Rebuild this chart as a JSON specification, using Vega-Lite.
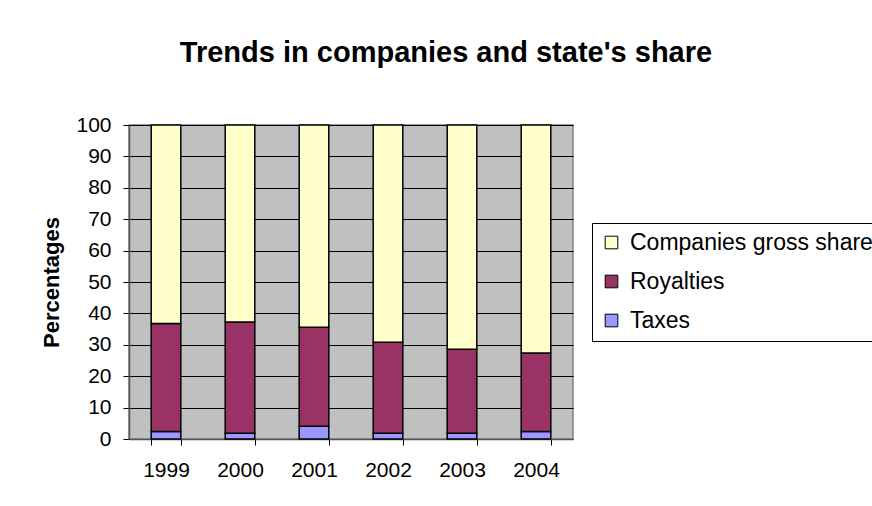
{
  "$schema": "https://vega.github.io/schema/vega-lite/v6.json",
  "description": "Trends in companies and state's share",
  "autosize": {"type": "none"},
  "width": 444,
  "height": 314,
  "padding": {"left": 129, "top": 125, "right": 299, "bottom": 67},
  "background": "#FFFFFF",
  "title": {
    "text": "Trends in companies and state's share",
    "anchor": "middle",
    "dx": 95,
    "offset": 46,
    "fontSize": 29,
    "font": "Liberation Sans",
    "fontWeight": "bold",
    "color": "#000000"
  },
  "data": {
    "values": [
      {"year": "1999", "type": "Taxes", "value": 2.4},
      {"year": "1999", "type": "Royalties", "value": 34.4},
      {"year": "1999", "type": "Companies gross share", "value": 63.2},
      {"year": "2000", "type": "Taxes", "value": 1.8},
      {"year": "2000", "type": "Royalties", "value": 35.5},
      {"year": "2000", "type": "Companies gross share", "value": 62.7},
      {"year": "2001", "type": "Taxes", "value": 4.1},
      {"year": "2001", "type": "Royalties", "value": 31.5},
      {"year": "2001", "type": "Companies gross share", "value": 64.4},
      {"year": "2002", "type": "Taxes", "value": 1.8},
      {"year": "2002", "type": "Royalties", "value": 29.0},
      {"year": "2002", "type": "Companies gross share", "value": 69.2},
      {"year": "2003", "type": "Taxes", "value": 1.8},
      {"year": "2003", "type": "Royalties", "value": 26.8},
      {"year": "2003", "type": "Companies gross share", "value": 71.4},
      {"year": "2004", "type": "Taxes", "value": 2.4},
      {"year": "2004", "type": "Royalties", "value": 25.0},
      {"year": "2004", "type": "Companies gross share", "value": 72.6}
    ]
  },
  "mark": {"type": "bar", "stroke": "#000000", "strokeWidth": 1.5},
  "encoding": {
    "x": {
      "field": "year",
      "type": "ordinal",
      "scale": {"paddingInner": 0.6, "paddingOuter": 0.3},
      "axis": {
        "title": null,
        "labelAngle": 0,
        "tickBand": "extent",
        "ticks": true,
        "grid": false,
        "labelPadding": 14
      }
    },
    "y": {
      "field": "value",
      "type": "quantitative",
      "aggregate": "sum",
      "stack": "zero",
      "scale": {"domain": [0, 100], "nice": false},
      "axis": {
        "title": "Percentages",
        "values": [0, 10, 20, 30, 40, 50, 60, 70, 80, 90, 100],
        "grid": true,
        "gridColor": "#000000",
        "gridOpacity": 1,
        "labelPadding": 12,
        "titlePadding": 12,
        "titleFontSize": 22,
        "titleFontWeight": "bold"
      }
    },
    "color": {
      "field": "type",
      "type": "nominal",
      "scale": {
        "domain": ["Companies gross share", "Royalties", "Taxes"],
        "range": ["#FFFFCC", "#993366", "#9999FF"]
      },
      "legend": {
        "title": null,
        "orient": "none",
        "legendX": 463,
        "legendY": 98,
        "strokeColor": "#000000",
        "fillColor": "#FFFFFF",
        "padding": 8,
        "symbolType": "square",
        "symbolSize": 160,
        "symbolStrokeColor": "#000000",
        "symbolStrokeWidth": 1,
        "symbolOpacity": 1,
        "labelFontSize": 23,
        "labelOffset": 7,
        "rowPadding": 15,
        "labelLimit": 400
      }
    },
    "order": {"field": "type", "sort": "descending"}
  },
  "config": {
    "font": "Liberation Sans",
    "view": {"fill": "#C0C0C0", "stroke": "#808080", "strokeWidth": 1.5},
    "axis": {
      "labelFont": "Liberation Sans",
      "titleFont": "Liberation Sans",
      "labelFontSize": 21,
      "labelColor": "#000000",
      "titleColor": "#000000",
      "domainColor": "#555555",
      "domainWidth": 1.5,
      "tickColor": "#000000",
      "tickSize": 6
    },
    "legend": {"labelFont": "Liberation Sans", "labelColor": "#000000"}
  }
}
